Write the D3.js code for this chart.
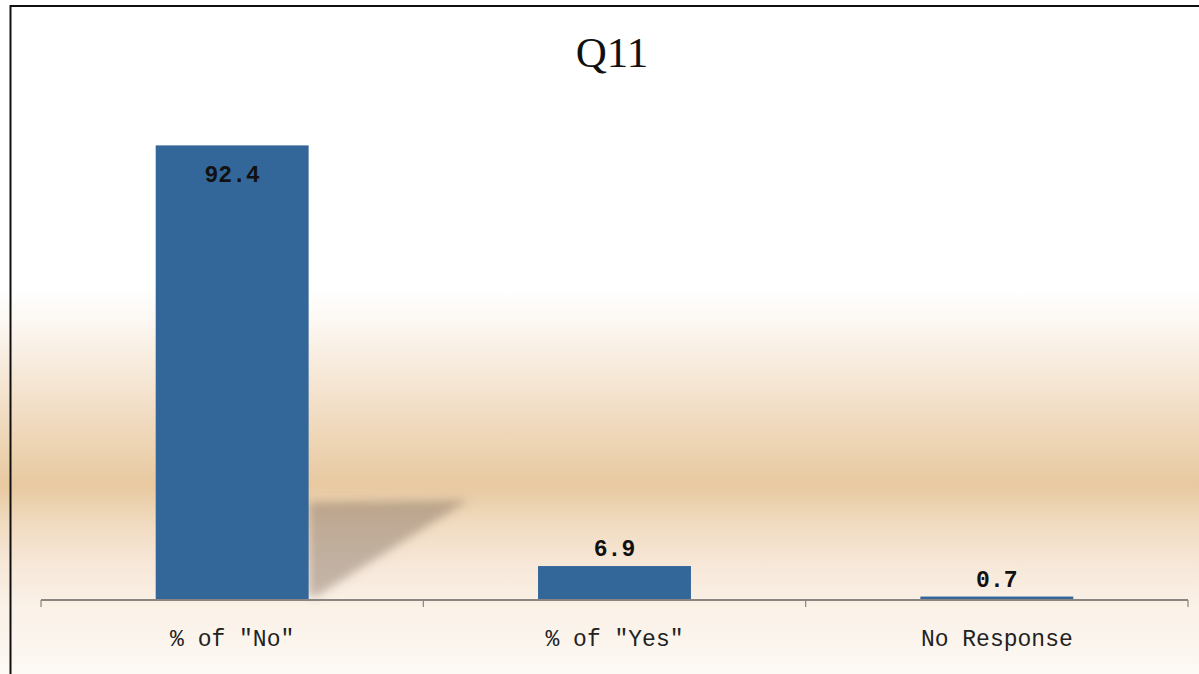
<!DOCTYPE html>
<html>
<head>
<meta charset="utf-8">
<script src="https://cdn.jsdelivr.net/npm/d3@7"></script>
<style>
  html, body { margin: 0; padding: 0; background: #fff; }
  svg { display: block; }
</style>
</head>
<body>
<script>
const title = "Q11";
const categories = ['% of "No"', '% of "Yes"', 'No Response'];
const values = [92.4, 6.9, 0.7];
const yDomain = [0, 100];

const W = 1199, H = 674;
const svg = d3.select("body").append("svg").attr("width", W).attr("height", H);
const defs = svg.append("defs");

const grad = defs.append("linearGradient").attr("id", "bg").attr("x1", 0).attr("y1", 0).attr("x2", 0).attr("y2", 1);
[[0, "#ffffff"], [0.43, "#ffffff"], [0.49, "#fbf5ee"], [0.58, "#f4e3cf"], [0.67, "#ecd2b0"], [0.72, "#e8c9a0"], [0.78, "#f1dcc2"], [0.84, "#f7e8d9"], [0.9, "#faf1e7"], [1, "#fdf9f4"]]
  .forEach(([o, c]) => grad.append("stop").attr("offset", o).attr("stop-color", c));

defs.append("filter").attr("id", "blur").attr("x", "-30%").attr("y", "-30%").attr("width", "160%").attr("height", "160%")
  .append("feGaussianBlur").attr("stdDeviation", 5);

svg.append("rect").attr("x", 0).attr("y", 0).attr("width", W).attr("height", H).attr("fill", "url(#bg)");

const x = d3.scaleBand().domain(categories).range([41, 1188]).paddingInner(0.6).paddingOuter(0.3);
const y = d3.scaleLinear().domain(yDomain).range([600, 108]);
const bw = x.bandwidth();

// shadow behind the tallest bar
const maxI = values.indexOf(d3.max(values));
{
  const bx = x(categories[maxI]) + bw;
  const topY = y(values[maxI] * 0.22);
  svg.append("path")
    .attr("d", `M${bx},${topY + 2} L${bx + 160},${topY} L${bx + 8},${y(0) - 4} L${bx},${y(0) - 4} Z`)
    .attr("fill", "rgba(120,100,85,0.42)")
    .attr("filter", "url(#blur)");
}

// bars
svg.selectAll("rect.bar").data(values).enter().append("rect")
  .attr("class", "bar")
  .attr("x", (d, i) => x(categories[i]))
  .attr("y", d => y(d))
  .attr("width", bw)
  .attr("height", d => y(0) - y(d))
  .attr("fill", "#336699");

// axis line & ticks
const axisG = svg.append("g").attr("transform", `translate(0,${y(0)})`);
axisG.append("line").attr("x1", x.range()[0]).attr("x2", x.range()[1]).attr("y1", 0).attr("y2", 0)
  .attr("stroke", "#8a8580").attr("stroke-width", 2);
const step = (x.range()[1] - x.range()[0]) / categories.length;
d3.range(categories.length + 1).forEach(i => {
  const tx = x.range()[0] + step * i;
  axisG.append("line").attr("x1", tx).attr("x2", tx).attr("y1", 0).attr("y2", 7)
    .attr("stroke", "#8a8580").attr("stroke-width", 1.2);
});

// category labels
svg.selectAll("text.cat").data(categories).enter().append("text")
  .attr("class", "cat")
  .attr("x", d => x(d) + bw / 2)
  .attr("y", 646)
  .attr("text-anchor", "middle")
  .attr("font-family", "Liberation Mono, DejaVu Sans Mono, monospace")
  .attr("font-size", 23)
  .attr("fill", "#222")
  .text(d => d);

// value labels
svg.selectAll("text.val").data(values).enter().append("text")
  .attr("class", "val")
  .attr("x", (d, i) => x(categories[i]) + bw / 2)
  .attr("y", d => (y(0) - y(d) > 60) ? y(d) + 37 : y(d) - 10)
  .attr("text-anchor", "middle")
  .attr("font-family", "Liberation Mono, DejaVu Sans Mono, monospace")
  .attr("font-size", 23)
  .attr("font-weight", "bold")
  .attr("fill", "#111")
  .text(d => d.toFixed(1));

// title
svg.append("text").attr("x", 612).attr("y", 67).attr("text-anchor", "middle")
  .attr("font-family", "Liberation Serif, serif").attr("font-size", 43).attr("fill", "#111")
  .text(title);

// border (left and top)
svg.append("line").attr("x1", 10.5).attr("x2", 10.5).attr("y1", 5).attr("y2", H).attr("stroke", "#111").attr("stroke-width", 2);
svg.append("line").attr("x1", 10).attr("x2", W).attr("y1", 6).attr("y2", 6).attr("stroke", "#111").attr("stroke-width", 2);
</script>
</body>
</html>
